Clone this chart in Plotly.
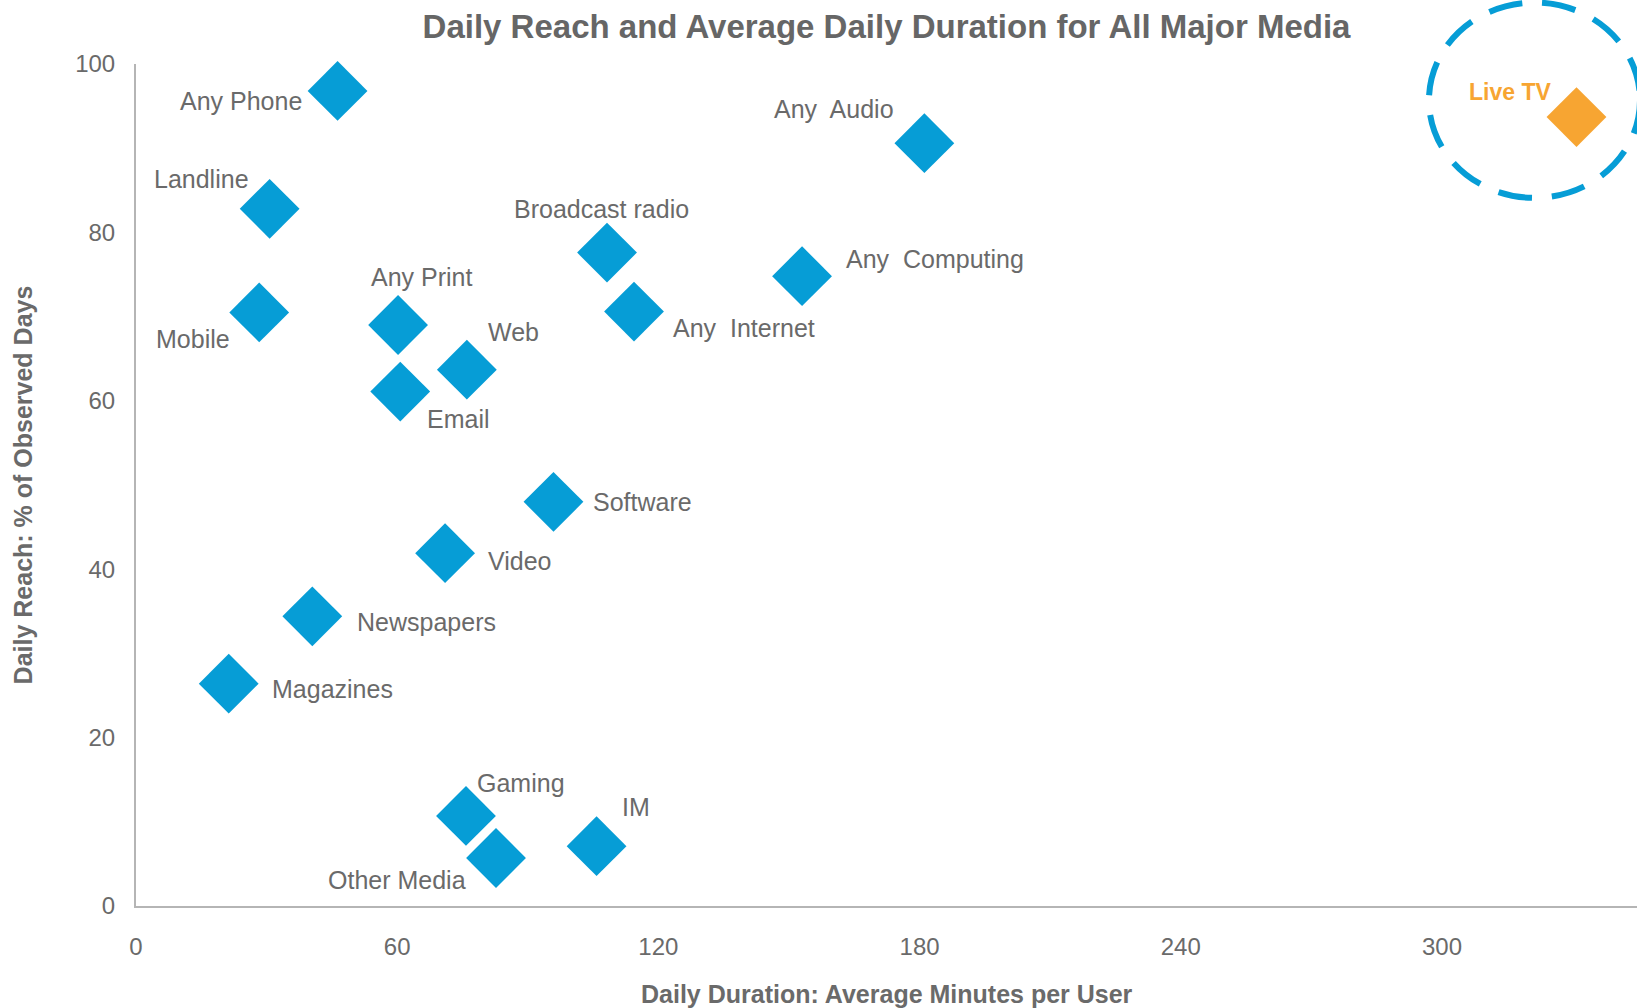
import plotly.graph_objects as go

# ---- data ----
media = ["Any Phone", "Landline", "Mobile", "Any Print", "Email", "Web",
         "Broadcast radio", "Any  Internet", "Any  Computing", "Any  Audio",
         "Software", "Video", "Newspapers", "Magazines", "Gaming",
         "Other Media", "IM"]
duration = [46.3, 30.7, 28.3, 60.2, 60.7, 76.0, 108.2, 114.4, 153.0, 181.1,
            95.9, 71.0, 40.5, 21.3, 75.8, 82.7, 105.8]
reach = [96.8, 82.8, 70.5, 69.0, 61.1, 63.7, 77.6, 70.6, 74.8, 90.6,
         48.0, 41.9, 34.4, 26.4, 10.7, 5.7, 7.1]

highlight_name = ["Live TV"]
highlight_duration = [330.9]
highlight_reach = [93.7]

x_ticks = [0, 60, 120, 180, 240, 300]
y_ticks = [0, 20, 40, 60, 80, 100]

# ---- label placement (pixel offsets, style only) ----
label_pos = {
    "Any Phone": ("right", -34, -10),
    "Landline": ("right", -19, 30),
    "Mobile": ("right", -27, -27),
    "Any Print": ("left", -29, 48),
    "Email": ("left", 25, -27),
    "Web": ("left", 19, 38),
    "Broadcast radio": ("left", -95, 44),
    "Any  Internet": ("left", 37, -16),
    "Any  Computing": ("left", 42, 17),
    "Any  Audio": ("right", -28, 34),
    "Software": ("left", 38, 0),
    "Video": ("left", 41, -8),
    "Newspapers": ("left", 43, -6),
    "Magazines": ("left", 41, -5),
    "Gaming": ("left", 9, 33),
    "Other Media": ("right", -28, -22),
    "IM": ("left", 23, 39),
}

BLUE = "#069DD6"
ORANGE = "#F7A532"
TXT = "#6a6a6a"
FONT = "Liberation Sans"

fig = go.Figure()
fig.add_trace(go.Scatter(
    x=duration, y=reach, mode="markers", text=media,
    marker=dict(symbol="diamond", size=46, color=BLUE, line=dict(width=0)),
    cliponaxis=False, showlegend=False))
fig.add_trace(go.Scatter(
    x=highlight_duration, y=highlight_reach, mode="markers", text=highlight_name,
    marker=dict(symbol="diamond", size=46, color=ORANGE, line=dict(width=0)),
    cliponaxis=False, showlegend=False))

annotations = []
for name, xv, yv in zip(media, duration, reach):
    anchor, dx, dy = label_pos[name]
    annotations.append(dict(
        x=xv, y=yv, xref="x", yref="y", text=name.replace("  ", "\u00a0 "),
        showarrow=False, xanchor=anchor, yanchor="middle",
        xshift=dx, yshift=dy,
        font=dict(family=FONT, size=25, color=TXT)))
for name, xv, yv in zip(highlight_name, highlight_duration, highlight_reach):
    annotations.append(dict(
        x=xv, y=yv, xref="x", yref="y", text="<b>" + name + "</b>",
        showarrow=False, xanchor="right", yanchor="middle",
        xshift=-23, yshift=25,
        font=dict(family=FONT, size=23, color=ORANGE)))

# axis titles
annotations.append(dict(
    x=0.5, y=-0.1045, xref="paper", yref="paper", yanchor="middle",
    text="<b>Daily Duration: Average Minutes per User</b>", showarrow=False,
    font=dict(family=FONT, size=25, color=TXT)))
annotations.append(dict(
    x=-0.075, y=0.5, xref="paper", yref="paper", xanchor="center",
    text="<b>Daily Reach: % of Observed Days</b>", showarrow=False, textangle=-90,
    font=dict(family=FONT, size=25, color=TXT)))

fig.update_layout(
    width=1637, height=1008, autosize=False,
    margin=dict(l=136, r=0, t=64, b=102),
    paper_bgcolor="white", plot_bgcolor="white",
    title=dict(text="<b>Daily Reach and Average Daily Duration for All Major Media</b>",
               x=0.5, xref="paper", y=0.974, yanchor="middle",
               font=dict(family=FONT, size=33, color="#666666")),
    annotations=annotations,
    shapes=[dict(type="circle", xref="paper", yref="paper",
                 x0=0.8614, x1=1.002, y0=0.841, y1=1.073,
                 line=dict(color=BLUE, width=6, dash="34px,20px"))],
    xaxis=dict(range=[0, 344.8], tickvals=x_ticks, showgrid=False, zeroline=False,
               showline=True, linecolor="#b5b5b5", linewidth=2,
               ticks="outside", ticklen=18, tickcolor="rgba(0,0,0,0)",
               tickfont=dict(family=FONT, size=24, color=TXT)),
    yaxis=dict(range=[0, 100], tickvals=y_ticks, showgrid=False, zeroline=False,
               showline=True, linecolor="#b5b5b5", linewidth=2,
               ticks="outside", ticklen=14, tickcolor="rgba(0,0,0,0)",
               tickfont=dict(family=FONT, size=24, color=TXT)),
)

fig.write_html("out.html", config={"displayModeBar": False},
               post_script="document.body.style.margin='0';document.body.style.overflow='hidden';")
